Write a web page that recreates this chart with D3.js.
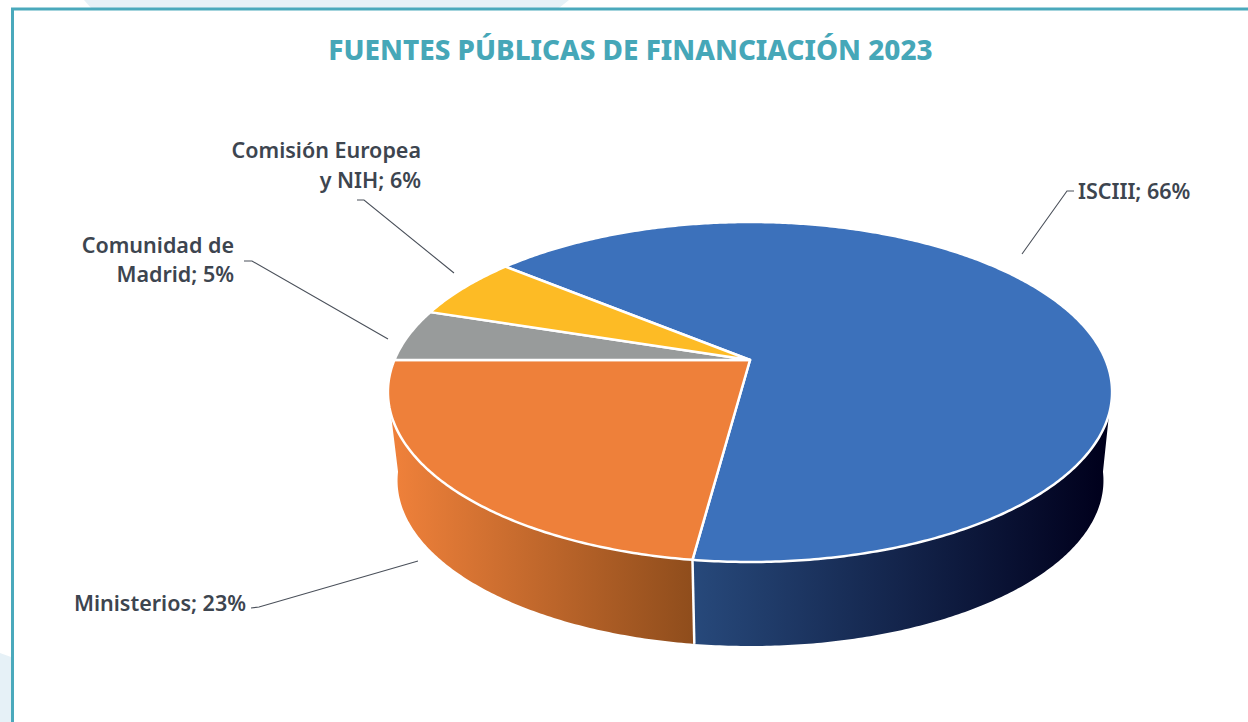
<!DOCTYPE html>
<html><head><meta charset="utf-8">
<script src="https://cdnjs.cloudflare.com/ajax/libs/d3/7.8.5/d3.min.js"></script>
<style>html,body{margin:0;padding:0;background:#fff;overflow:hidden}svg{display:block}
text{font-family:"Noto Sans",sans-serif}</style></head><body>
<svg id="c" width="1248" height="722"></svg>
<script>
const categories=["ISCIII","Ministerios","Comunidad de Madrid","Comisión Europea y NIH"];
const values=[66.1,22.9,5,6];
const colors=["#3C71BB","#EE803A","#989B9B","#FDBB25"];
const sideStops=[["#27497B","#00001C"],["#EE803A","#8F4D1C"]];
const labelLines=[["ISCIII; 66%"],["Ministerios; 23%"],["Comunidad de","Madrid; 5%"],["Comisión Europea","y NIH; 6%"]];
const labelAnchors=[[1078,198.5],[246,611],[234,252.5],[421,158]];
const leaders=[[[1022,254],[1067,191],[1074,191]],[[418,561],[259,607],[251,608]],[[388,339],[252,261],[244,261]],[[454,273],[364,200],[357,200]]];
const titleText="FUENTES PÚBLICAS DE FINANCIACIÓN 2023";
const topDisc={cx:750,halfW:355.6,far:222,apex:360,near:562};
const baseDisc={cx:750.5,halfW:346.5,far:315,apex:449,near:646};
const svg=d3.select("#c"),defs=svg.append("defs");
const rad=d=>d*Math.PI/180;

function projector(d){
  const cc=((d.near-d.apex)-(d.apex-d.far))/((d.near-d.apex)+(d.apex-d.far));
  const a=d.far*(1+cc)-d.apex;
  return t=>{const u=Math.sin(t),v=Math.cos(t),w=cc*v+1;return [d.cx+d.halfW*u/w,(a*v+d.apex)/w];};
}
const pTop=projector(topDisc),pBase=projector(baseDisc);
const line=d3.line();
const arcPts=(p,a,b)=>{const n=Math.max(2,Math.ceil(Math.abs(b-a)/0.01));return d3.range(n+1).map(i=>p(a+(b-a)*i/n));};

const arcs=d3.pie().sort(null).value(d=>d).startAngle(rad(309.6)).endAngle(rad(309.6+360))(values);

// background tint and frame
svg.append("path").attr("d",line([[84,0],[91,8],[559,8],[569,0]])+"Z").attr("fill","#E6F1F7");
svg.append("path").attr("d",line([[0,653],[11,657],[11,722],[0,722]])+"Z").attr("fill","#E6F1F7");
svg.append("path").attr("d",line([[12.5,722],[12.5,9],[1248,9]])).attr("fill","none").attr("stroke","#4AA9BC").attr("stroke-width",3);

// title
svg.append("text").attr("x",630.5).attr("y",60).attr("text-anchor","middle").attr("font-size",27.85).attr("font-weight",800).attr("fill","#46A7B8").text(titleText);

// side walls: ISCIII and Ministerios reach the visible front rim
const seam=arcs[1].startAngle-2*Math.PI;
const topEnd=[rad(108),rad(252)];
const baseEnd=[rad(98),rad(262)];
[0,1].forEach(i=>{
  const id="side"+i;
  const gx=i==0?[pTop(seam)[0],1104]:[398,pTop(seam)[0]];
  const g=defs.append("linearGradient").attr("id",id).attr("gradientUnits","userSpaceOnUse").attr("x1",gx[0]).attr("x2",gx[1]).attr("y1",0).attr("y2",0);
  g.append("stop").attr("offset",0).attr("stop-color",sideStops[i][0]);
  g.append("stop").attr("offset",1).attr("stop-color",sideStops[i][1]);
  const pts=arcPts(pTop,seam,topEnd[i]).concat(arcPts(pBase,baseEnd[i],seam));
  svg.append("path").attr("d",line(pts)+"Z").attr("fill",`url(#${id})`);
});
// seam
svg.append("path").attr("d",line([pTop(seam),pBase(seam)])).attr("stroke","#fff").attr("stroke-width",2.5).attr("fill","none");

// top slices
arcs.forEach((s,i)=>{
  const pts=[[topDisc.cx,topDisc.apex]].concat(arcPts(pTop,s.startAngle,s.endAngle));
  svg.append("path").attr("d",line(pts)+"Z").attr("fill",colors[i]).attr("stroke","#fff").attr("stroke-width",2.5).attr("stroke-linejoin","round");
});

// leaders and labels
leaders.forEach(l=>svg.append("path").attr("d",line(l)).attr("fill","none").attr("stroke","#4A505A").attr("stroke-width",1.1));
labelLines.forEach((ls,i)=>{
  const anchor=i==0?"start":"end";
  ls.forEach((t,j)=>svg.append("text").attr("x",labelAnchors[i][0]).attr("y",labelAnchors[i][1]+j*29.5).attr("text-anchor",anchor).attr("font-size",21.5).attr("font-weight",600).attr("fill","#3D454F").text(t));
});
</script></body></html>
